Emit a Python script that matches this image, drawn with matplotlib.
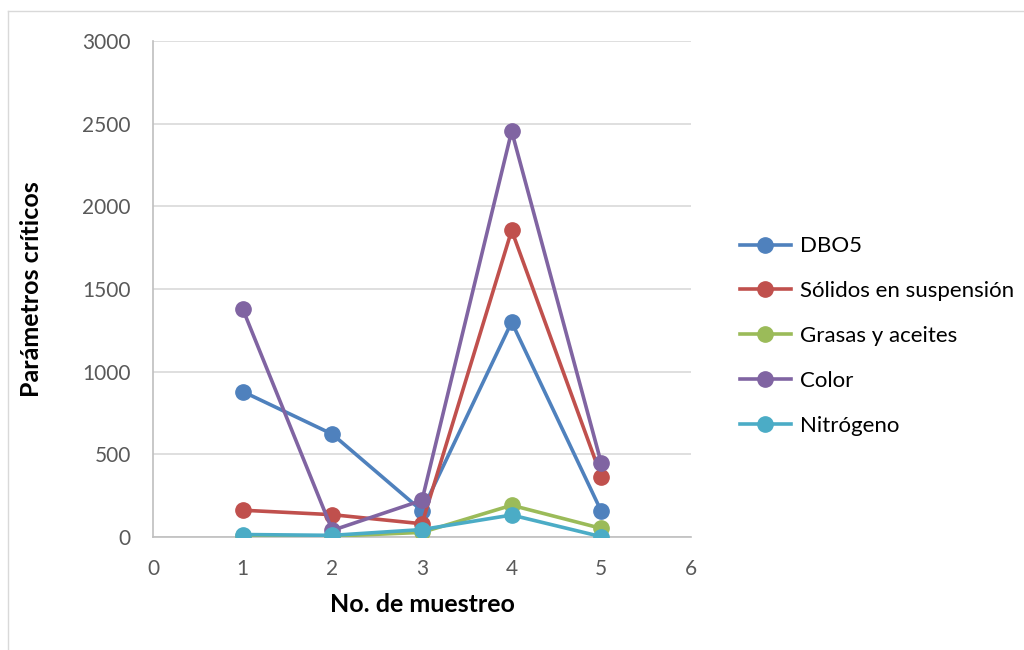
import matplotlib
matplotlib.use('Agg')
import matplotlib.pyplot as plt
from matplotlib.lines import Line2D


# Datos

muestreo = [1, 2, 3, 4, 5]

dbo5 = [880, 622, 158, 1300, 155]
solidos = [162, 135, 80, 1855, 365]
grasas = [5, 5, 28, 192, 52]
color = [1380, 40, 222, 2455, 445]
nitrogeno = [15, 10, 45, 133, 2]

series = [
    ('DBO5', dbo5, '#4F81BD'),
    ('Sólidos en suspensión', solidos, '#C0504D'),
    ('Grasas y aceites', grasas, '#9BBB59'),
    ('Color', color, '#8064A2'),
    ('Nitrógeno', nitrogeno, '#4BACC6'),
]

y_ticks = [0, 500, 1000, 1500, 2000, 2500, 3000]
x_ticks = [0, 1, 2, 3, 4, 5, 6]


plt.rcParams['font.family'] = ['Lato', 'DejaVu Sans']

fig = plt.figure(figsize=(10.24, 6.5), dpi=100)
ax = fig.add_axes([153 / 1024, 113 / 650, 538 / 1024, 496 / 650])

# marco del area del grafico
fig.add_artist(Line2D([8 / 1024, 8 / 1024], [0, 1 - 11 / 650], color='#D9D9D9', lw=1))
fig.add_artist(Line2D([8 / 1024, 1], [1 - 11 / 650, 1 - 11 / 650], color='#D9D9D9', lw=1))

for name, vals, c in series:
    ax.plot(muestreo, vals, color=c, lw=2.6, marker='o', markersize=11,
            label=name, zorder=3)

ax.set_xlim(0, 6)
ax.set_ylim(0, 3000)
ax.set_xticks(x_ticks)
ax.set_yticks(y_ticks)
ax.tick_params(length=0, labelsize=15, colors='#595959', pad=16)
ax.yaxis.grid(True, color='#D9D9D9', lw=1.2)
ax.set_axisbelow(True)

for s in ['top', 'right']:
    ax.spines[s].set_visible(False)
ax.spines['left'].set_color('#BFBFBF')
ax.spines['bottom'].set_color('#BFBFBF')
ax.spines['left'].set_linewidth(1.2)
ax.spines['bottom'].set_linewidth(1.2)

ax.set_xlabel('No. de muestreo', fontsize=18, fontweight='bold', labelpad=10)
ax.set_ylabel('Parámetros críticos', fontsize=18, fontweight='bold')
ax.yaxis.set_label_coords(-0.205, 0.5)

leg = ax.legend(loc='center left', bbox_to_anchor=(1.07, 0.405), frameon=False,
                fontsize=16, handlelength=2.3, labelspacing=1.12, handletextpad=0.4,
                borderpad=0)

plt.savefig('out.png', dpi=100)
